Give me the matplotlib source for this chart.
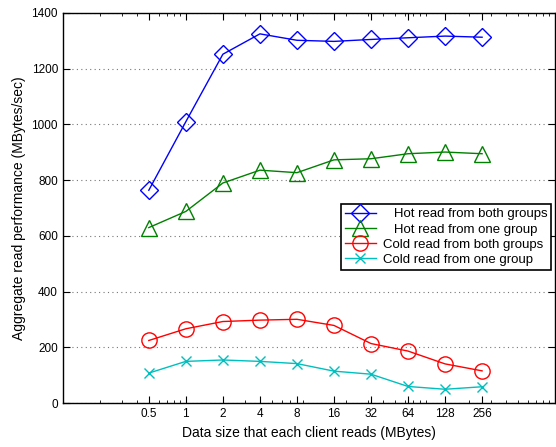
import numpy as np
import matplotlib.pyplot as plt
from matplotlib.ticker import FixedLocator, NullFormatter, LogLocator

plt.rcParams['font.family'] = ['Liberation Sans', 'DejaVu Sans']

# data
sizes = [0.5, 1, 2, 4, 8, 16, 32, 64, 128, 256]
size_labels = ['0.5', '1', '2', '4', '8', '16', '32', '64', '128', '256']
hot_both = [764, 1010, 1252, 1325, 1302, 1298, 1305, 1311, 1317, 1313]
hot_one = [630, 688, 790, 836, 827, 873, 877, 895, 901, 895]
cold_both = [225, 267, 293, 298, 301, 279, 214, 187, 141, 116]
cold_one = [108, 150, 155, 150, 142, 115, 104, 60, 50, 59]

fig = plt.figure(figsize=(5.56, 4.47), dpi=100)
ax = fig.add_axes([0.113, 0.098, 0.885, 0.873])

ax.plot(sizes, hot_both, '-', color='#0000ff', marker='D', mfc='none', ms=9, mew=1, lw=1,
        label='   Hot read from both groups')
ax.plot(sizes, hot_one, '-', color='#008000', marker='^', mfc='none', ms=11, mew=1, lw=1,
        label='   Hot read from one group')
ax.plot(sizes, cold_both, '-', color='#ff0000', marker='o', mfc='none', ms=11, mew=1, lw=1,
        label='Cold read from both groups')
ax.plot(sizes, cold_one, '-', color='#00bfbf', marker='x', ms=7, mew=1, lw=1,
        label='Cold read from one group')

ax.set_xscale('log')
ax.set_xlim(0.1, 1000)
ax.set_ylim(0, 1400)
ax.xaxis.set_major_locator(FixedLocator(sizes))
ax.set_xticklabels(size_labels)
ax.xaxis.set_minor_locator(LogLocator(base=10, subs=np.arange(2, 10)))
ax.xaxis.set_minor_formatter(NullFormatter())
ax.set_yticks(np.arange(0, 1401, 200))

ax.tick_params(which='both', direction='in', top=True, right=True, labelsize=8.5)
ax.tick_params(which='major', length=5)
ax.tick_params(which='minor', length=2.5)
ax.yaxis.grid(True, linestyle=(0, (1, 3)), color='#777777', lw=0.8)
for s in ax.spines.values():
    s.set_linewidth(1)

ax.set_xlabel('Data size that each client reads (MBytes)', fontsize=10)
ax.set_ylabel('Aggregate read performance (MBytes/sec)', fontsize=10)

leg = ax.legend(loc='upper right', bbox_to_anchor=(0.993, 0.51), fontsize=9.5,
                fancybox=False, framealpha=1, edgecolor='black', borderpad=0.3,
                labelspacing=0.22, handlelength=2.4, handletextpad=0.5, borderaxespad=0)
leg.get_frame().set_linewidth(1.2)

fig.savefig('out.png', dpi=100)
